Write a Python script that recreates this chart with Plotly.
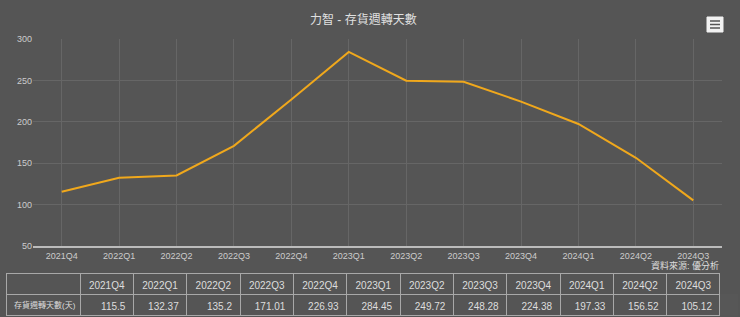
import plotly.graph_objects as go

quarters = ["2021Q4", "2022Q1", "2022Q2", "2022Q3", "2022Q4", "2023Q1",
            "2023Q2", "2023Q3", "2023Q4", "2024Q1", "2024Q2", "2024Q3"]
days = [115.5, 132.37, 135.2, 171.01, 226.93, 284.45,
        249.72, 248.28, 224.38, 197.33, 156.52, 105.12]
series_name = "存貨週轉天數(天)"
title = "力智 - 存貨週轉天數"
source = "資料來源: 優分析"

W, H = 740, 317
ML, MR, MT, MB = 6, 18, 39, 1
PW, PH = W - ML - MR, H - MT - MB

def px(x):
    return (x - ML) / PW

def py(y):
    return (H - MB - y) / PH

BG = "#555555"
FONT = "Liberation Sans, Arial, Noto Sans CJK TC, sans-serif"

fig = go.Figure()
fig.add_trace(go.Scatter(x=quarters, y=days, mode="lines",
                         line=dict(color="#f0a81c", width=2),
                         xaxis="x", yaxis="y", showlegend=False,
                         hoverinfo="x+y"))

fmt = [("%g" % v) for v in days]
fig.add_trace(go.Table(
    domain=dict(x=[0, px(720)], y=[0, py(273)]),
    columnwidth=[74] + [53.3] * len(quarters),
    header=dict(values=[""] + quarters,
                fill_color=BG, line_color="#a8a8a8",
                font=dict(color="#dddddd", size=10, family=FONT),
                align="center", height=21),
    cells=dict(values=[[series_name]] + [[v] for v in fmt],
               fill_color=BG, line_color="#a8a8a8",
               font=dict(color="#dddddd", size=[8] + [10] * len(quarters),
                         family=FONT),
               align=["left"] + ["right"] * len(quarters), height=21),
))

shapes = []
# hamburger icon
shapes.append(dict(type="rect", xref="paper", yref="paper",
                   x0=px(707), x1=px(723), y0=py(32), y1=py(17),
                   fillcolor="#f2f2f2", line=dict(color="#f2f2f2", width=1)))
for ly in (21, 24.5, 28):
    shapes.append(dict(type="line", xref="paper", yref="paper",
                       x0=px(710), x1=px(720), y0=py(ly), y1=py(ly),
                       line=dict(color="#555555", width=1.5)))

fig.update_layout(
    width=W, height=H,
    margin=dict(l=ML, r=MR, t=MT, b=MB, autoexpand=False),
    paper_bgcolor=BG, plot_bgcolor=BG,
    font=dict(family=FONT, color="#cccccc"),
    xaxis=dict(domain=[px(33), 1], type="category", range=[-0.5, 11.5],
               showgrid=True, gridcolor="#666666", gridwidth=1,
               showline=True, linecolor="#bbbbbb", linewidth=1.5,
               ticks="", tickfont=dict(size=9, color="#cccccc"),
               zeroline=False, fixedrange=True, automargin=False),
    yaxis=dict(domain=[py(246), 1], range=[50, 300], dtick=50,
               showgrid=True, gridcolor="#666666", gridwidth=1,
               showline=False, zeroline=False, ticks="",
               tickfont=dict(size=9, color="#cccccc"), fixedrange=True,
               automargin=False),
    shapes=shapes,
    annotations=[
        dict(text=title, xref="paper", yref="paper", x=px(363), y=py(20),
             xanchor="center", yanchor="middle", showarrow=False,
             font=dict(size=12, color="#e0e0e0", family=FONT)),
        dict(text=source, xref="paper", yref="paper", x=px(721), y=py(265.5),
             xanchor="right", yanchor="middle", showarrow=False,
             font=dict(size=9, color="#dddddd", family=FONT)),
    ],
)

fig.write_html("out.html")
